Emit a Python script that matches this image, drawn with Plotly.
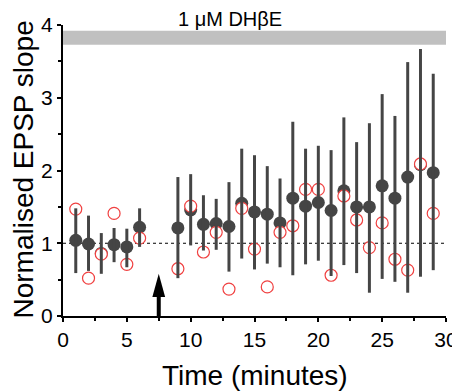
import plotly.graph_objects as go

time = [1, 2, 3, 4, 5, 6, 9, 10, 11, 12, 13, 14, 15, 16, 17, 18, 19, 20, 21, 22, 23, 24, 25, 26, 27, 28, 29]
mean = [1.04, 0.99, 0.86, 0.98, 0.95, 1.22, 1.21, 1.46, 1.26, 1.27, 1.23, 1.55, 1.43, 1.40, 1.28, 1.62, 1.51, 1.56,
        1.45, 1.72, 1.50, 1.50, 1.79, 1.62, 1.91, 2.08, 1.97]
ci_high = [1.48, 1.38, 1.14, 1.21, 1.20, 1.48, 1.91, 1.95, 1.66, 1.61, 1.84, 2.30, 2.21, 2.06, 1.89, 2.67, 2.30, 2.34,
           2.28, 2.73, 2.39, 2.65, 3.05, 2.75, 3.49, 3.67, 3.33]
ci_low = [0.59, 0.62, 0.58, 0.74, 0.67, 0.95, 0.52, 0.97, 0.90, 0.91, 0.61, 0.79, 0.64, 0.72, 0.67, 0.56, 0.71, 0.76,
          0.55, 0.70, 0.59, 0.32, 0.51, 0.47, 0.32, 0.54, 0.63]
single = [1.47, 0.52, 0.85, 1.41, 0.71, 1.07, 0.65, 1.51, 0.88, 1.15, 0.37, 1.48, 0.92, 0.40, 1.15, 1.24, 1.74, 1.74,
          0.56, 1.65, 1.32, 0.94, 1.28, 0.78, 0.63, 2.09, 1.41]

x_ticks = [0, 5, 10, 15, 20, 25, 30]
y_ticks = [0, 1, 2, 3, 4]
drug_label = "1 \u03bcM DH\u03b2E"
drug_start, drug_end = 0, 30
drug_y0, drug_y1 = 3.73, 3.92
arrow_time = 7.5
arrow_tip = 0.58
arrow_base = 0.26
arrow_halfwidth = 0.5
baseline = 1

dark = "#454545"
red = "#f04040"
font = "Liberation Sans, Arial, sans-serif"

fig = go.Figure()
fig.add_trace(go.Scatter(
    x=time, y=mean, mode="markers",
    marker=dict(color=dark, size=13, line=dict(width=0)),
    showlegend=False, hoverinfo="skip"))
fig.add_trace(go.Scatter(
    x=time, y=single, mode="markers",
    marker=dict(color="white", size=12, line=dict(color=red, width=1.2)),
    showlegend=False, hoverinfo="skip"))
fig.add_trace(go.Scatter(
    x=time, y=mean, mode="markers",
    marker=dict(color=dark, size=1, opacity=0),
    error_y=dict(type="data", symmetric=False,
                 array=[h - m for h, m in zip(ci_high, mean)],
                 arrayminus=[m - l for m, l in zip(mean, ci_low)],
                 color=dark, thickness=3, width=0),
    showlegend=False, hoverinfo="skip"))

fig.add_shape(type="rect", xref="x", yref="y", x0=drug_start, x1=drug_end, y0=drug_y0, y1=drug_y1,
              fillcolor="#c0c0c0", line=dict(width=0), layer="above")
fig.add_shape(type="line", xref="x", yref="y", x0=0, x1=30, y0=baseline, y1=baseline,
              line=dict(color="black", width=1, dash="dot"), layer="below")

# arrow (shaft + head)
fig.add_shape(type="line", xref="x", yref="y", x0=arrow_time, x1=arrow_time, y0=0, y1=arrow_base + 0.02,
              line=dict(color="black", width=4), layer="above")
fig.add_shape(type="path", xref="x", yref="y",
              path=f"M {arrow_time - arrow_halfwidth},{arrow_base} L {arrow_time},{arrow_tip} "
                   f"L {arrow_time + arrow_halfwidth},{arrow_base} Z",
              fillcolor="black", line=dict(color="black", width=0), layer="above")

fig.add_annotation(x=13.05, y=drug_y1, xref="x", yref="y", text=drug_label, showarrow=False,
                   yanchor="bottom", yshift=-1, font=dict(family=font, size=20, color="black"))

# axis titles
fig.add_annotation(x=0.5, y=-0.206, xref="paper", yref="paper", text="Time (minutes)", showarrow=False,
                   xanchor="center", yanchor="middle", font=dict(family=font, size=28, color="black"))
fig.add_annotation(x=-0.102, y=0.503, xref="paper", yref="paper", text="Normalised EPSP slope", showarrow=False,
                   textangle=-90, xanchor="center", yanchor="middle",
                   font=dict(family=font, size=28, color="black"))

axis_common = dict(showline=True, linecolor="black", linewidth=2, ticks="outside", ticklen=4, tickwidth=2,
                   tickcolor="black", showgrid=False, zeroline=False, automargin=False,
                   tickfont=dict(family=font, size=21, color="black"))

fig.update_xaxes(range=[0, 30], tickvals=x_ticks, **axis_common,
                 minor=dict(ticks="outside", ticklen=3, tickwidth=2, tickcolor="black", dtick=2.5, tick0=0))
fig.update_yaxes(range=[0, 4], tickvals=y_ticks, **axis_common,
                 minor=dict(ticks="outside", ticklen=3, tickwidth=2, tickcolor="black", dtick=0.5, tick0=0))

# the page body has an 8px margin (top/left), so the figure is offset and sized to end at the window's edges
fig.update_layout(width=452, height=383, margin=dict(l=55, r=14, t=17, b=75),
                  plot_bgcolor="white", paper_bgcolor="white")

fig.write_html("out.html")
